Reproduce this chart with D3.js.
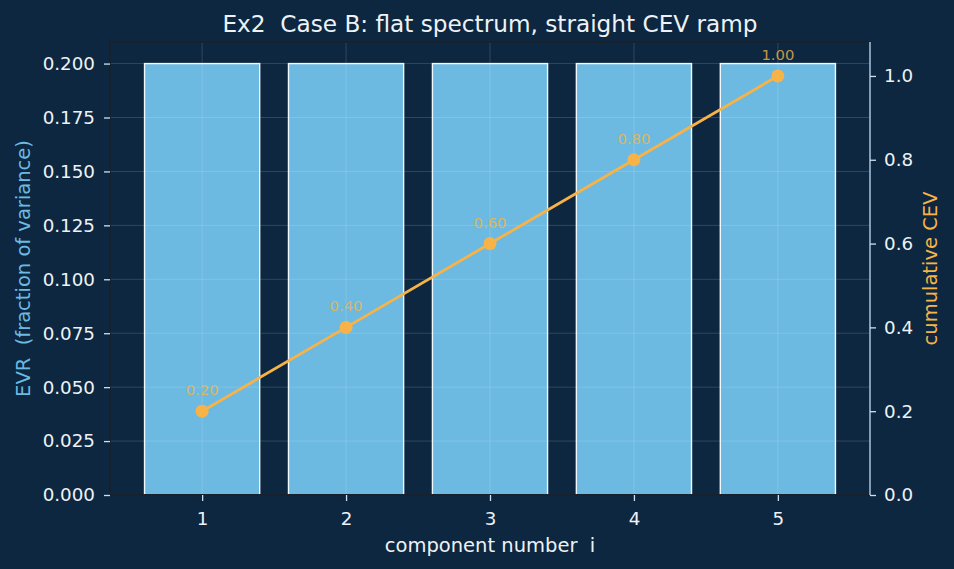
<!DOCTYPE html>
<html><head><meta charset="utf-8">
<script src="https://cdn.jsdelivr.net/npm/d3@7"></script>
<style>body{margin:0;background:#0d2740;}svg{display:block;}text{white-space:pre;}</style>
</head><body>
<svg id="c" width="954" height="569"></svg>
<script>
const components = [1, 2, 3, 4, 5];
const evr = [0.2, 0.2, 0.2, 0.2, 0.2];
const cev = [0.2, 0.4, 0.6, 0.8, 1.0];
const cevLabels = ["0.20", "0.40", "0.60", "0.80", "1.00"];
const leftTicks = [0, 0.025, 0.05, 0.075, 0.1, 0.125, 0.15, 0.175, 0.2];
const rightTicks = [0, 0.2, 0.4, 0.6, 0.8, 1.0];
const title = "Ex2  Case B: flat spectrum, straight CEV ramp";

const svg = d3.select("#c");
const W = 954, H = 569;
const m = {l: 110, r: 870, t: 42, b: 495};
svg.append("rect").attr("width", W).attr("height", H).attr("fill", "#0d2740");

const x = d3.scaleLinear().domain([0.36, 5.64]).range([m.l, m.r]);
const yL = d3.scaleLinear().domain([0, 0.21]).range([m.b, m.t]);
const yR = d3.scaleLinear().domain([0, 1.081]).range([m.b, m.t]);
const font = "DejaVu Sans, sans-serif";
const txt = "#eef2f6";
const fs = 18.3;
const fsLabel = 19.5;

// bars
const bw = x(1.8) - x(1);
svg.append("g").selectAll("rect").data(components).join("rect")
  .attr("x", (d) => x(d) - bw / 2)
  .attr("y", (d, i) => yL(evr[i]))
  .attr("width", bw)
  .attr("height", (d, i) => yL(0) - yL(evr[i]))
  .attr("fill", "#6cb9e1")
  .attr("stroke", "#f2f8fc").attr("stroke-width", 1.4);

// grid
const grid = svg.append("g").attr("stroke", "#ffffff").attr("stroke-opacity", 0.17).attr("stroke-width", 0.9);
leftTicks.forEach(t => grid.append("line").attr("x1", m.l).attr("x2", m.r).attr("y1", yL(t)).attr("y2", yL(t)));
components.forEach(c => grid.append("line").attr("x1", x(c)).attr("x2", x(c)).attr("y1", m.t).attr("y2", m.b));

// spines
svg.append("line").attr("x1", m.l).attr("x2", m.l).attr("y1", m.t).attr("y2", m.b).attr("stroke", "#18222e").attr("stroke-width", 1.8);
svg.append("line").attr("x1", m.l).attr("x2", m.r).attr("y1", m.t).attr("y2", m.t).attr("stroke", "#18222e").attr("stroke-width", 1.8);
svg.append("line").attr("x1", m.l).attr("x2", m.r).attr("y1", m.b).attr("y2", m.b).attr("stroke", "#18222e").attr("stroke-width", 1.8);
svg.append("line").attr("x1", m.r).attr("x2", m.r).attr("y1", m.t).attr("y2", m.b).attr("stroke", "#a8c6dc").attr("stroke-width", 1.5);

// axes
function styleAxis(g) {
  g.select(".domain").remove();
  g.selectAll(".tick line").attr("stroke", "#cfe0ec").attr("stroke-width", 1.3);
  g.selectAll(".tick text").attr("fill", txt).attr("font-family", font).attr("font-size", fs);
}
svg.append("g").attr("transform", `translate(${m.l},0)`)
  .call(d3.axisLeft(yL).tickValues(leftTicks).tickFormat(d3.format(".3f")).tickSize(6).tickPadding(9))
  .call(styleAxis);
svg.append("g").attr("transform", `translate(${m.r},0)`)
  .call(d3.axisRight(yR).tickValues(rightTicks).tickFormat(d3.format(".1f")).tickSize(6).tickPadding(8))
  .call(styleAxis);
svg.append("g").attr("transform", `translate(0,${m.b})`)
  .call(d3.axisBottom(x).tickValues(components).tickFormat(d3.format("d")).tickSize(6).tickPadding(11))
  .call(styleAxis);

// line
const line = d3.line().x((d, i) => x(components[i])).y(d => yR(d));
svg.append("path").datum(cev).attr("d", line).attr("fill", "none")
  .attr("stroke", "#f8b348").attr("stroke-width", 2.8);
svg.append("g").selectAll("circle").data(cev).join("circle")
  .attr("cx", (d, i) => x(components[i])).attr("cy", d => yR(d)).attr("r", 6.5)
  .attr("fill", "#f8b348");
svg.append("g").selectAll("text").data(cev).join("text")
  .attr("x", (d, i) => x(components[i])).attr("y", d => yR(d) - 16)
  .attr("text-anchor", "middle").attr("font-family", font).attr("font-size", 14.8)
  .attr("fill", "#f5b548").attr("fill-opacity", 0.8)
  .text((d, i) => cevLabels[i]);

// labels
svg.append("text").attr("x", (m.l + m.r) / 2).attr("y", 32).attr("text-anchor", "middle")
  .attr("font-family", font).attr("font-size", 23.2).attr("fill", txt).text(title);
svg.append("text").attr("x", (m.l + m.r) / 2).attr("y", 552).attr("text-anchor", "middle")
  .attr("font-family", font).attr("font-size", fsLabel).attr("fill", txt).text("component number  i");
svg.append("text").attr("transform", `translate(30,${(m.t + m.b) / 2}) rotate(-90)`).attr("text-anchor", "middle")
  .attr("font-family", font).attr("font-size", fsLabel).attr("fill", "#6cb9e1").text("EVR  (fraction of variance)");
svg.append("text").attr("transform", `translate(937,${(m.t + m.b) / 2}) rotate(-90)`).attr("text-anchor", "middle")
  .attr("font-family", font).attr("font-size", fsLabel).attr("fill", "#f8b348").text("cumulative CEV");
</script>
</body></html>
